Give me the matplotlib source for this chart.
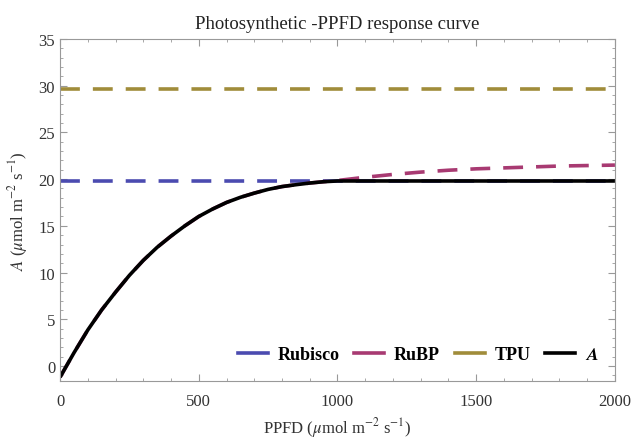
import matplotlib
matplotlib.use("Agg")
import matplotlib.pyplot as plt
from matplotlib.ticker import MultipleLocator

plt.rcParams['font.family'] = ['Liberation Serif', 'DejaVu Serif']
plt.rcParams['mathtext.fontset'] = 'stix'

# data
ppfd = [0, 50, 100, 150, 200, 250, 300, 350, 400, 450, 500, 550, 600, 650, 700,
        750, 800, 850, 900, 950, 1000, 1100, 1200, 1300, 1400, 1500, 1600, 1700,
        1800, 1900, 2000]
rubp = [-1.2, 1.4, 3.85, 6.0, 7.9, 9.7, 11.3, 12.7, 13.9, 15.0, 16.0, 16.8, 17.5,
        18.05, 18.5, 18.9, 19.2, 19.4, 19.58, 19.72, 19.85, 20.2, 20.5, 20.75,
        20.95, 21.1, 21.2, 21.3, 21.4, 21.45, 21.5]
rubisco = [19.8] * len(ppfd)
tpu = [29.6] * len(ppfd)
a_net = [min(r, c, t) for r, c, t in zip(rubp, rubisco, tpu)]

c_rubisco = '#4b4bb0'
c_rubp = '#a83a72'
c_tpu = '#a08c3a'
lw = 2.6
dash = (0, (5.5, 3.6))

fig = plt.figure(figsize=(6.32, 4.39), dpi=100)
ax = fig.add_axes([0.095, 0.130, 0.878, 0.779])

ax.plot(ppfd, rubisco, color=c_rubisco, lw=lw, ls=dash)
ax.plot(ppfd, rubp, color=c_rubp, lw=lw, ls=dash)
ax.plot(ppfd, tpu, color=c_tpu, lw=lw, ls=dash)
ax.plot(ppfd, a_net, color='black', lw=lw, solid_capstyle='butt')

ax.set_xlim(0, 2000)
ax.set_ylim(-1.6, 35)
ax.xaxis.set_major_locator(MultipleLocator(500))
ax.xaxis.set_minor_locator(MultipleLocator(100))
ax.yaxis.set_major_locator(MultipleLocator(5))
ax.yaxis.set_minor_locator(MultipleLocator(1))
ax.tick_params(which='both', direction='in', top=True, right=True,
               colors='#999999', labelcolor='#333333', labelsize=12)
ax.tick_params(which='major', length=5, width=0.8)
ax.tick_params(axis='x', which='major', pad=9)
ax.tick_params(which='minor', length=2.5, width=0.6)
for s in ax.spines.values():
    s.set_color('#999999')
    s.set_linewidth(0.8)

ax.set_title('Photosynthetic -PPFD response curve', fontsize=13.5, color='#222222', pad=8)
ax.set_xlabel(r'PPFD ($\mu$mol m$^{-2}$ s$^{-1}$)', fontsize=12, color='#333333', labelpad=4)
ax.set_ylabel(r'$A$ ($\mu$mol m$^{-2}$ s$^{-1}$)', fontsize=12, color='#333333', labelpad=6)

handles = [plt.Line2D([], [], color=c, lw=lw) for c in (c_rubisco, c_rubp, c_tpu, 'black')]
leg = ax.legend(handles, ['Rubisco', 'RuBP', 'TPU', r'$\boldsymbol{A}$'], loc='lower right',
                bbox_to_anchor=(1.0, 0.005), ncol=4, frameon=False, handlelength=1.66,
                columnspacing=0.8, handletextpad=0.55, prop={'weight': 'bold', 'size': 13})

fig.savefig('out.png', dpi=100)
